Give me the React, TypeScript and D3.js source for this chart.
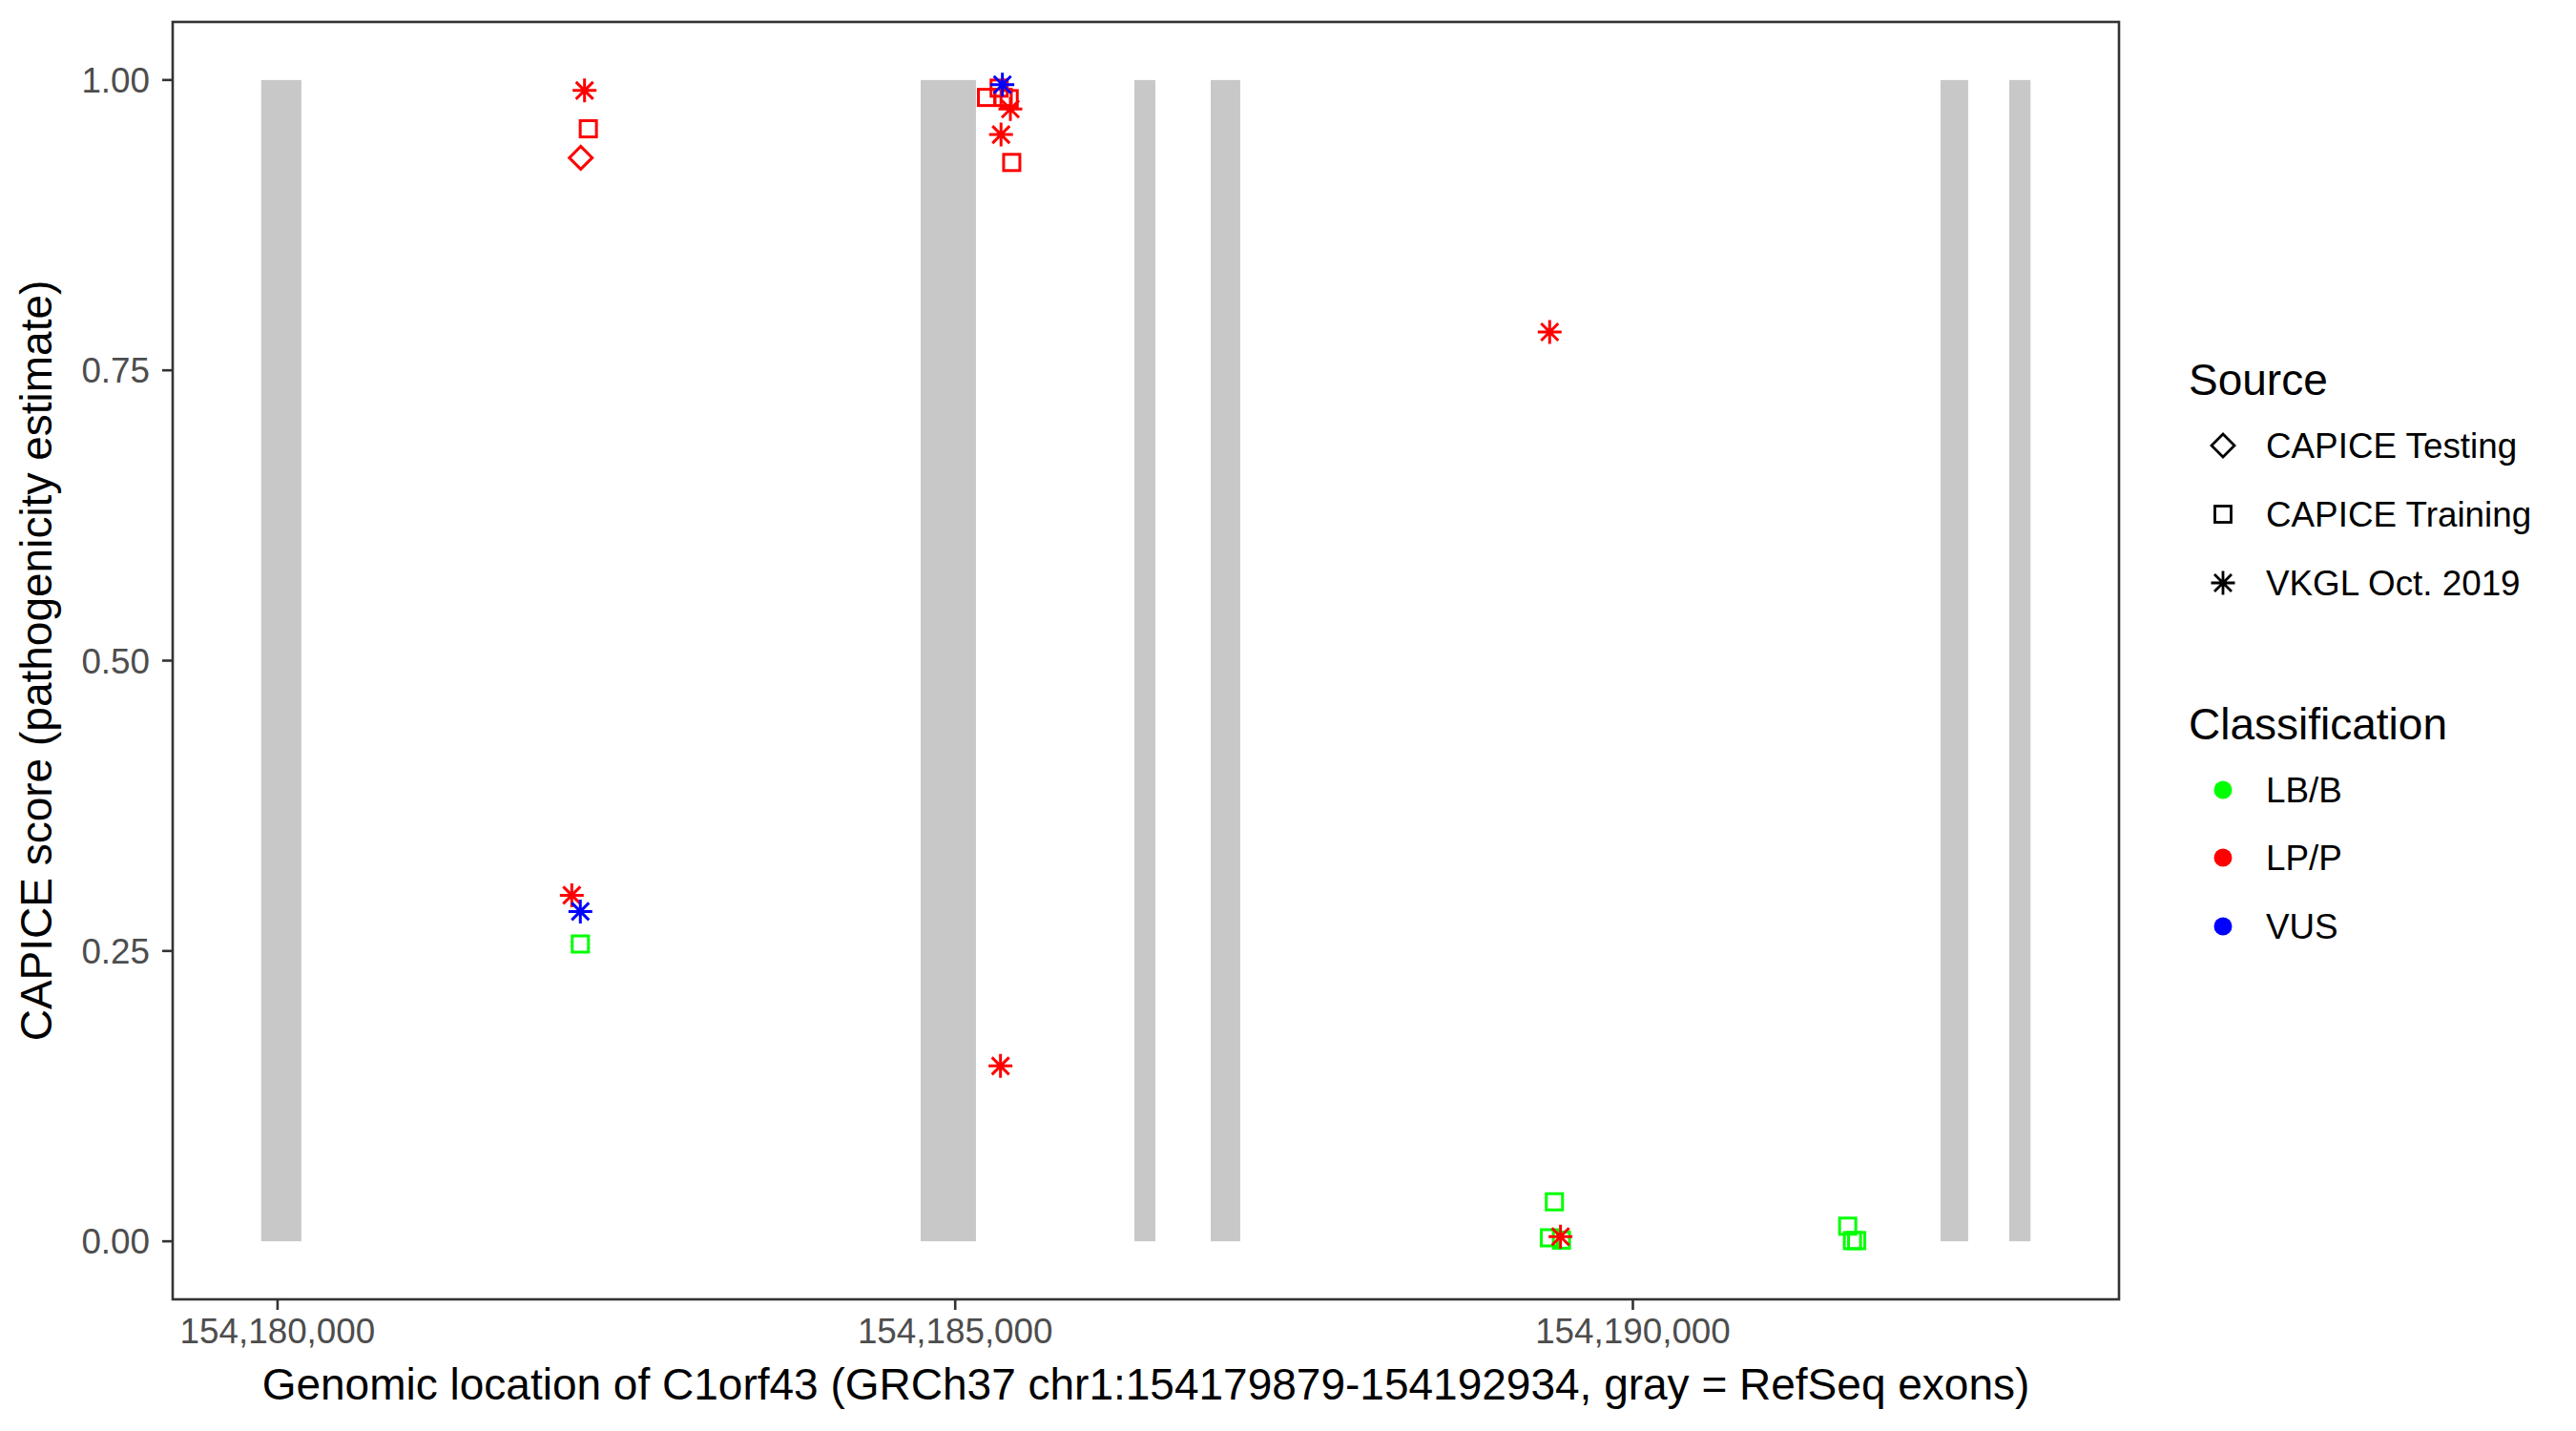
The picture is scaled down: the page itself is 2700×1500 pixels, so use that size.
import React from "react";
import * as d3 from "d3";

const geneStart = 154179879;
const geneEnd = 154192934;

const exonStarts = [154179879, 154184745, 154186322, 154186885, 154192270, 154192777];
const exonEnds = [154180176, 154185153, 154186477, 154187103, 154192474, 154192934];

const pointPos = [
  154182265, 154182293, 154182237, 154182171, 154182234, 154182234,
  154185348, 154185231, 154185324, 154185354, 154185398, 154185407, 154185338, 154185417, 154185334,
  154189386, 154189421, 154189384, 154189473, 154189466,
  154191585, 154191620, 154191651,
];
const pointScore = [
  0.991, 0.958, 0.933, 0.298, 0.284, 0.256,
  0.996, 0.985, 0.993, 0.985, 0.984, 0.975, 0.953, 0.929, 0.151,
  0.783, 0.034, 0.003, 0.001, 0.004,
  0.013, 0.0006, 0.0006,
];
const pointSource = [
  "VKGL Oct. 2019", "CAPICE Training", "CAPICE Testing", "VKGL Oct. 2019", "VKGL Oct. 2019", "CAPICE Training",
  "VKGL Oct. 2019", "CAPICE Training", "CAPICE Training", "CAPICE Training", "CAPICE Training", "VKGL Oct. 2019", "VKGL Oct. 2019", "CAPICE Training", "VKGL Oct. 2019",
  "VKGL Oct. 2019", "CAPICE Training", "CAPICE Training", "CAPICE Training", "VKGL Oct. 2019",
  "CAPICE Training", "CAPICE Training", "CAPICE Training",
];
const pointClass = [
  "LP/P", "LP/P", "LP/P", "LP/P", "VUS", "LB/B",
  "VUS", "LP/P", "LP/P", "LP/P", "LP/P", "LP/P", "LP/P", "LP/P", "LP/P",
  "LP/P", "LB/B", "LB/B", "LB/B", "LP/P",
  "LB/B", "LB/B", "LB/B",
];

const sources = ["CAPICE Testing", "CAPICE Training", "VKGL Oct. 2019"];
const classes = ["LB/B", "LP/P", "VUS"];
const classColors = ["#00FF00", "#FF0000", "#0000FF"];
const xTicks = [154180000, 154185000, 154190000];
const yTicks = [0, 0.25, 0.5, 0.75, 1];

const W = 2700;
const H = 1500;
const panel = { left: 181, right: 2221, top: 23, bottom: 1362 };
const FONT = "'Liberation Sans', Arial, Helvetica, sans-serif";

function Marker({ shape, x, y, color, sw = 3 }: { shape: string; x: number; y: number; color: string; sw?: number }) {
  if (shape === "CAPICE Testing") {
    const r = 12;
    return (
      <path
        d={`M${x},${y - r}L${x + r},${y}L${x},${y + r}L${x - r},${y}Z`}
        fill="none"
        stroke={color}
        strokeWidth={sw}
      />
    );
  }
  if (shape === "CAPICE Training") {
    const h = 8.5;
    return <rect x={x - h} y={y - h} width={2 * h} height={2 * h} fill="none" stroke={color} strokeWidth={sw} />;
  }
  const r = 12.5;
  const d = 9;
  return (
    <path
      d={`M${x - r},${y}L${x + r},${y}M${x},${y - r}L${x},${y + r}M${x - d},${y - d}L${x + d},${y + d}M${x - d},${y + d}L${x + d},${y - d}`}
      fill="none"
      stroke={color}
      strokeWidth={sw}
    />
  );
}

export default function App() {
  const span = geneEnd - geneStart;
  const x = d3
    .scaleLinear()
    .domain([geneStart - span * 0.05, geneEnd + span * 0.05])
    .range([panel.left, panel.right]);
  const y = d3.scaleLinear().domain([-0.05, 1.05]).range([panel.bottom, panel.top]);
  const color = d3.scaleOrdinal<string, string>().domain(classes).range(classColors);
  const fmtX = d3.format(",");
  const fmtY = d3.format(".2f");

  // draw green first, then red, then blue
  const drawOrder = d3.range(pointPos.length).sort(
    (a, b) => classes.indexOf(pointClass[a]) - classes.indexOf(pointClass[b])
  );

  const legX = 2330;
  const legTextX = 2375;
  const srcY = [467, 539, 611];
  const clsY = [828, 899, 971];

  return (
    <svg
      width={W}
      height={H}
      style={{ position: "absolute", left: 0, top: 0, display: "block", background: "#fff" }}
      fontFamily={FONT}
    >
      <rect x={0} y={0} width={W} height={H} fill="#fff" />
      {exonStarts.map((s, i) => (
        <rect
          key={"e" + i}
          x={x(s)}
          y={y(1)}
          width={x(exonEnds[i]) - x(s)}
          height={y(0) - y(1)}
          fill="#c8c8c8"
        />
      ))}
      {drawOrder.map((i) => (
        <Marker key={"p" + i} shape={pointSource[i]} x={x(pointPos[i])} y={y(pointScore[i])} color={color(pointClass[i])} />
      ))}
      <rect
        x={panel.left}
        y={panel.top}
        width={panel.right - panel.left}
        height={panel.bottom - panel.top}
        fill="none"
        stroke="#333333"
        strokeWidth={2.6}
      />
      {yTicks.map((t) => (
        <g key={"yt" + t}>
          <line x1={panel.left - 11} x2={panel.left} y1={y(t)} y2={y(t)} stroke="#333333" strokeWidth={2.6} />
          <text x={panel.left - 24} y={y(t)} dy="0.36em" textAnchor="end" fontSize={36.8} fill="#4d4d4d">
            {fmtY(t)}
          </text>
        </g>
      ))}
      {xTicks.map((t) => (
        <g key={"xt" + t}>
          <line x1={x(t)} x2={x(t)} y1={panel.bottom} y2={panel.bottom + 11} stroke="#333333" strokeWidth={2.6} />
          <text x={x(t)} y={panel.bottom + 46} textAnchor="middle" fontSize={36.8} fill="#4d4d4d">
            {fmtX(t)}
          </text>
        </g>
      ))}
      <text x={(panel.left + panel.right) / 2} y={1467} textAnchor="middle" fontSize={46} fill="#000">
        Genomic location of C1orf43 (GRCh37 chr1:154179879-154192934, gray = RefSeq exons)
      </text>
      <text
        transform={`translate(54,${(panel.top + panel.bottom) / 2}) rotate(-90)`}
        textAnchor="middle"
        fontSize={46}
        fill="#000"
      >
        CAPICE score (pathogenicity estimate)
      </text>
      <text x={2294} y={414} fontSize={46} fill="#000">
        Source
      </text>
      {sources.map((s, i) => (
        <g key={"ls" + i}>
          <Marker shape={s} x={legX} y={srcY[i]} color="#000" sw={2.8} />
          <text x={legTextX} y={srcY[i]} dy="0.36em" fontSize={36.8} fill="#000">
            {s}
          </text>
        </g>
      ))}
      <text x={2294} y={775} fontSize={46} fill="#000">
        Classification
      </text>
      {classes.map((c, i) => (
        <g key={"lc" + i}>
          <circle cx={legX} cy={clsY[i]} r={9.5} fill={color(c)} />
          <text x={legTextX} y={clsY[i]} dy="0.36em" fontSize={36.8} fill="#000">
            {c}
          </text>
        </g>
      ))}
    </svg>
  );
}
